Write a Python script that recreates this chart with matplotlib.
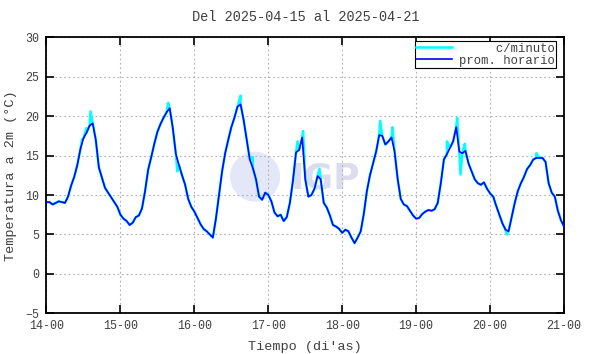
import numpy as np
import matplotlib
matplotlib.use('Agg')
import matplotlib.pyplot as plt
from matplotlib.patches import Ellipse

# promedio horario (°C), una lista por dia
dia14 = [9.1, 9.1, 8.8, 9.0, 9.2, 9.1, 9.0, 9.8, 11.2, 12.3, 13.8, 15.8,
         17.2, 17.9, 18.8, 19.1, 17.0, 13.5, 12.2, 10.9, 10.3, 9.7, 9.1, 8.5]
dia15 = [7.5, 7.0, 6.7, 6.2, 6.5, 7.2, 7.4, 8.3, 10.5, 13.2, 14.8, 16.5,
         18.0, 19.0, 19.8, 20.5, 21.0, 18.5, 15.2, 13.8, 12.5, 11.3, 9.5, 8.5]
dia16 = [7.9, 7.1, 6.3, 5.7, 5.4, 5.0, 4.6, 7.0, 10.0, 13.0, 15.3, 17.0,
         18.6, 19.8, 21.2, 21.5, 19.5, 17.0, 14.5, 13.4, 12.0, 9.8, 9.4, 10.3]
dia17 = [10.0, 9.2, 7.8, 7.3, 7.5, 6.7, 7.2, 9.0, 11.8, 15.4, 15.7, 17.3,
         12.0, 9.8, 10.0, 10.8, 12.4, 12.0, 9.0, 8.4, 7.4, 6.2, 6.0, 5.7]
dia18 = [5.2, 5.6, 5.4, 4.6, 3.9, 4.6, 5.4, 7.6, 10.5, 12.5, 14.0, 15.5,
         17.6, 17.5, 16.4, 16.8, 17.3, 15.5, 12.0, 9.5, 8.8, 8.6, 8.0, 7.4]
dia19 = [7.0, 7.1, 7.6, 7.9, 8.1, 8.0, 8.2, 9.0, 11.5, 14.5, 15.2, 16.0,
         16.8, 18.6, 15.5, 15.3, 15.6, 14.0, 13.0, 12.0, 11.5, 11.3, 11.6, 10.8]
dia20 = [10.2, 9.8, 8.6, 7.5, 6.4, 5.6, 5.4, 7.2, 9.0, 10.5, 11.5, 12.3,
         13.3, 13.8, 14.5, 14.7, 14.7, 14.7, 14.2, 11.5, 10.3, 9.8, 8.0, 6.8]
dia21 = [6.0]

# picos del registro por minuto (hora desde 14-00, °C)
pico_h = [11.5, 13.0, 14.3, 39.5, 42.5, 63.0, 67.0, 81.5, 83.3, 88.6,
          108.3, 112.3, 130.0, 133.3, 134.4, 135.8, 149.5, 159.0]
pico_v = [17.0, 18.5, 20.6, 21.7, 13.0, 22.6, 14.8, 16.8, 18.1, 13.3,
          19.4, 18.6, 16.8, 19.8, 12.6, 16.5, 5.0, 15.3]

dias = ['14-00', '15-00', '16-00', '17-00', '18-00', '19-00', '20-00', '21-00']

horario = np.array(dia14 + dia15 + dia16 + dia17 + dia18 + dia19 + dia20 + dia21)
horas = np.arange(len(horario))

minuto_h = np.concatenate([horas, pico_h])
minuto_v = np.concatenate([horario, pico_v])
orden = np.argsort(minuto_h)
minuto_h = minuto_h[orden]
minuto_v = minuto_v[orden]

gris = '#404040'
plt.rcParams['font.family'] = 'Liberation Mono'

fig = plt.figure(figsize=(5.9, 3.54), dpi=100)
ax = fig.add_axes([0.0788, 0.115, 0.956 - 0.0788, 0.8946 - 0.115])

# marca de agua
ax.add_patch(Ellipse((0.403, 0.495), 0.0966, 0.181, transform=ax.transAxes,
                     facecolor='#e3e7f7', edgecolor='none', zorder=0))
ax.text(0.472, 0.49, 'IGP', transform=ax.transAxes, fontsize=26,
        fontweight='bold', family='DejaVu Sans', color='#dcdcf0',
        ha='left', va='center', zorder=0)

ax.plot(minuto_h, minuto_v, color='#00ffff', lw=1.8, label='     c/minuto', zorder=2)
ax.plot(horas, horario, color='#0000ff', lw=1.2, label='prom. horario', zorder=3)

ax.set_xlim(0, 168)
ax.set_ylim(-5, 30)
ax.set_xticks(np.arange(0, 169, 24))
ax.set_xticklabels(dias)
ax.set_yticks(np.arange(-5, 31, 5))

ax.grid(True, color='#b0b0b0', linestyle=(0, (1.5, 2.5)), linewidth=0.8)
ax.tick_params(direction='in', length=6, width=1.2, top=True, right=True,
               labelsize=8.4, labelcolor=gris, pad=5)
for s in ax.spines.values():
    s.set_linewidth(1.3)
    s.set_color('black')

ax.set_title('Del 2025-04-15 al 2025-04-21', fontsize=9.8, color=gris, pad=12)
ax.set_xlabel("Tiempo (di'as)", fontsize=9.7, color=gris, labelpad=6)
ax.set_ylabel('Temperatura a 2m (°C)', fontsize=9.7, color=gris, labelpad=6)

leg = ax.legend(loc='upper right', bbox_to_anchor=(1 - 8 / 517.5, 1 - 4 / 276),
                fontsize=8.8, frameon=True, fancybox=False,
                edgecolor='black', framealpha=1, handlelength=2.9,
                borderaxespad=0, borderpad=0.1, labelspacing=0.0,
                handletextpad=0.6)
leg.get_frame().set_linewidth(0.8)
for t in leg.get_texts():
    t.set_color(gris)

fig.savefig('out.png', dpi=100)
